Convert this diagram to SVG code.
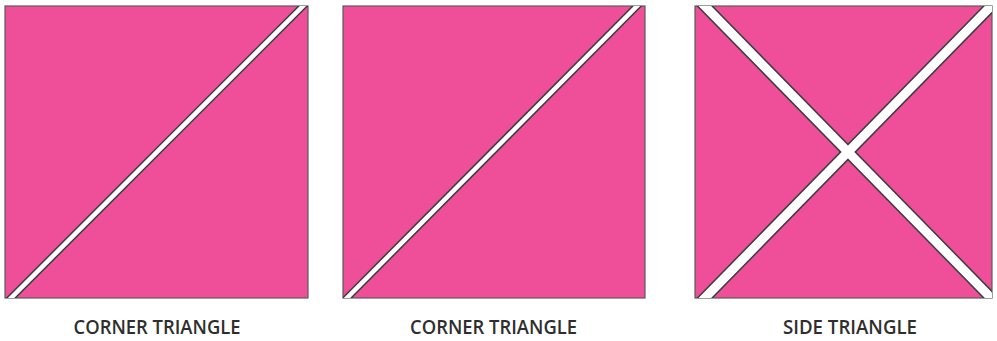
<svg xmlns="http://www.w3.org/2000/svg" width="997" height="341" viewBox="0 0 997 341">
<style>
.sq{fill:#EF4F98;stroke:#5a5a5a;stroke-width:1.2}
.gapd{stroke:#3c3c3c;stroke-linecap:butt}
.gapw{stroke:#ffffff;stroke-linecap:butt}
.lbl{font-family:"Open Sans","Liberation Sans",sans-serif;font-weight:600;font-size:19px;fill:#2e2e2e;text-anchor:middle}
</style>
<defs>
<clipPath id="c1"><rect x="5" y="6" width="303" height="292"/></clipPath>
<clipPath id="c2"><rect x="343" y="6" width="302" height="292"/></clipPath>
<clipPath id="c3"><rect x="695" y="6" width="297" height="292"/></clipPath>
</defs>
<rect width="997" height="341" fill="#ffffff"/>
<g id="square1">
<rect class="sq" x="5" y="6" width="303" height="292"/>
<g clip-path="url(#c1)">
<line class="gapd" x1="313" y1="-4" x2="1" y2="308" stroke-width="7.5"/>
<line class="gapw" x1="313" y1="-4" x2="1" y2="308" stroke-width="4.5"/>
</g>
<text class="lbl" x="157" y="334" textLength="167" lengthAdjust="spacingAndGlyphs">CORNER TRIANGLE</text>
</g>
<g id="square2">
<rect class="sq" x="343" y="6" width="302" height="292"/>
<g clip-path="url(#c2)">
<line class="gapd" x1="647" y1="-4" x2="337" y2="308" stroke-width="7.5"/>
<line class="gapw" x1="647" y1="-4" x2="337" y2="308" stroke-width="4.5"/>
</g>
<text class="lbl" x="493.5" y="334" textLength="167" lengthAdjust="spacingAndGlyphs">CORNER TRIANGLE</text>
</g>
<g id="square3">
<rect class="sq" x="695" y="6" width="297" height="292"/>
<g clip-path="url(#c3)">
<line class="gapd" x1="695" y1="-4" x2="1001" y2="308" stroke-width="12"/>
<line class="gapd" x1="1001" y1="-4" x2="695" y2="308" stroke-width="12"/>
<line class="gapw" x1="695" y1="-4" x2="1001" y2="308" stroke-width="9"/>
<line class="gapw" x1="1001" y1="-4" x2="695" y2="308" stroke-width="9"/>
</g>
<text class="lbl" x="850" y="334" textLength="134" lengthAdjust="spacingAndGlyphs">SIDE TRIANGLE</text>
</g>
</svg>
